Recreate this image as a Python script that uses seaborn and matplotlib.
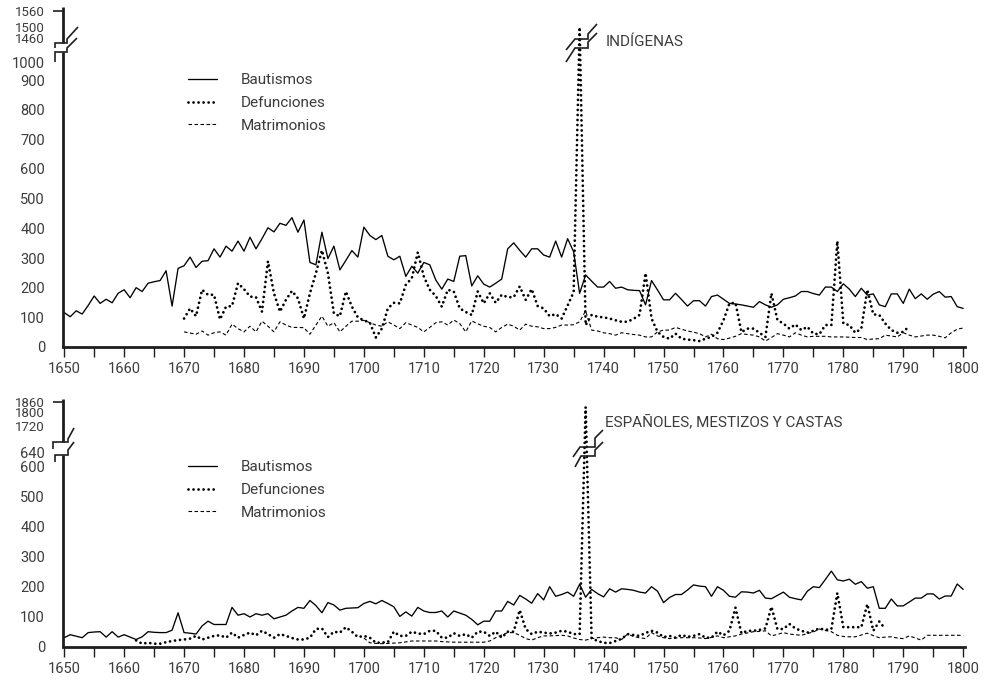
import numpy as np
import pandas as pd
import matplotlib
matplotlib.use("Agg")
import matplotlib.pyplot as plt
from matplotlib.ticker import MultipleLocator
import seaborn as sns

sns.set_theme(style="white")
plt.rcParams["font.family"] = ["Roboto", "DejaVu Sans"]

# ---------------- data ----------------
# INDÍGENAS
ind_baut_start = 1650
ind_baut = [116, 102, 122, 111, 140, 172, 147, 161, 149, 181,
            193, 166, 200, 187, 215, 220, 224, 257, 138, 265,
            274, 303, 268, 289, 291, 331, 303, 340, 323, 357,
            323, 370, 331, 365, 402, 388, 417, 410, 436, 387,
            428, 285, 277, 387, 298, 340, 260, 292, 325, 303,
            404, 376, 362, 376, 306, 294, 306, 238, 272, 249,
            285, 277, 226, 195, 229, 221, 306, 308, 206, 240,
            212, 202, 215, 229, 331, 351, 326, 303, 331, 331,
            310, 303, 357, 303, 365, 321, 181, 243, 222, 202,
            202, 221, 198, 202, 193, 191, 190, 142, 224, 192,
            159, 159, 181, 160, 138, 156, 156, 138, 170, 175,
            161, 147, 145, 142, 138, 134, 153, 142, 134, 142,
            161, 166, 172, 187, 187, 180, 175, 202, 202, 187,
            213, 195, 170, 198, 175, 179, 142, 136, 179, 179,
            147, 195, 163, 179, 161, 178, 187, 168, 170, 136,
            130]
ind_def_start = 1670
ind_def = [96, 130, 104, 193, 176, 176, 93, 136, 138, 215,
           195, 170, 168, 119, 289, 181, 119, 159, 189, 164,
           96, 181, 249, 326, 249, 113, 104, 187, 136, 100,
           90, 82, 32, 62, 130, 149, 147, 210, 232, 319,
           238, 193, 172, 136, 193, 187, 130, 118, 108, 187,
           147, 181, 149, 176, 168, 168, 204, 159, 195, 138,
           130, 104, 111, 96, 140, 185, 1500, 74, 108, 102,
           100, 96, 90, 85, 85, 95, 108, 249, 96, 51,
           34, 28, 45, 28, 25, 23, 20, 28, 34, 48,
           90, 147, 149, 50, 62, 62, 48, 34, 181, 91,
           79, 62, 76, 57, 68, 45, 43, 74, 74, 357,
           79, 74, 48, 62, 193, 110, 108, 79, 57, 48,
           51, 70]
ind_mat_start = 1670
ind_mat = [51, 47, 43, 54, 40, 48, 51, 40, 77, 62,
           51, 70, 51, 87, 70, 51, 85, 74, 66, 66,
           65, 43, 74, 104, 70, 82, 51, 70, 87, 87,
           90, 82, 74, 70, 85, 74, 62, 82, 74, 66,
           51, 66, 82, 85, 74, 91, 79, 51, 88, 78,
           70, 66, 51, 66, 77, 70, 57, 77, 70, 68,
           62, 62, 66, 74, 74, 75, 85, 122, 57, 54,
           48, 45, 40, 48, 45, 42, 40, 34, 34, 51,
           57, 57, 66, 60, 54, 50, 45, 34, 43, 28,
           25, 30, 36, 45, 42, 40, 34, 20, 32, 45,
           40, 34, 48, 40, 34, 36, 36, 36, 34, 34,
           34, 33, 32, 32, 25, 27, 28, 40, 37, 34,
           48, 40, 34, 37, 40, 40, 36, 31, 48, 60,
           64]

# ESPAÑOLES, MESTIZOS Y CASTAS
esp_baut_start = 1650
esp_baut = [31, 41, 36, 31, 48, 50, 51, 33, 51, 33,
            41, 33, 25, 34, 51, 49, 48, 48, 56, 114,
            48, 46, 43, 70, 86, 75, 75, 75, 132, 106,
            111, 100, 111, 106, 111, 94, 100, 106, 120, 132,
            129, 155, 138, 114, 148, 140, 123, 129, 130, 131,
            145, 152, 144, 155, 145, 134, 102, 117, 103, 132,
            120, 115, 115, 120, 100, 120, 113, 106, 92, 74,
            86, 86, 120, 120, 152, 140, 172, 160, 146, 178,
            157, 201, 169, 175, 183, 169, 209, 166, 192, 178,
            167, 194, 183, 194, 192, 189, 183, 180, 201, 186,
            148, 165, 175, 175, 190, 207, 203, 201, 169, 201,
            189, 169, 166, 184, 183, 180, 189, 163, 161, 172,
            183, 166, 161, 157, 186, 201, 198, 225, 253, 224,
            220, 226, 209, 218, 196, 201, 129, 129, 160, 137,
            137, 150, 163, 163, 177, 177, 160, 170, 170, 210,
            192]
esp_def_start = 1662
esp_def = [22, 11, 14, 11, 11, 16, 20, 23,
           25, 28, 37, 25, 31, 37, 39, 31, 48, 31,
           40, 48, 39, 54, 43, 31, 43, 37, 30, 25,
           25, 31, 60, 62, 33, 51, 48, 66, 51, 33,
           37, 31, 14, 15, 16, 51, 37, 37, 51, 45,
           43, 54, 54, 31, 31, 46, 37, 43, 31, 51,
           51, 37, 51, 31, 51, 51, 123, 60, 43, 51,
           48, 45, 48, 54, 51, 43, 43, 1830, 29, 20,
           14, 13, 20, 27, 43, 40, 37, 47, 54, 48,
           33, 37, 31, 40, 34, 37, 43, 31, 31, 51,
           39, 54, 131, 46, 54, 54, 57, 62, 134, 60,
           60, 77, 62, 54, 48, 54, 62, 57, 60, 180,
           66, 66, 66, 66, 143, 54, 85, 60]
esp_mat_start = 1700
esp_mat = [30, 14, 12, 11, 12, 13, 14, 17, 20, 20,
           20, 20, 20, 18, 17, 16, 16, 16, 16, 16,
           16, 20, 31, 40, 48, 48, 39, 28, 23, 31,
           37, 37, 38, 39, 37, 30, 25, 23, 28, 31,
           33, 31, 31, 25, 43, 35, 31, 28, 48, 37,
           31, 28, 30, 31, 31, 31, 30, 28, 32, 37,
           31, 34, 37, 43, 47, 51, 52, 54, 37, 42,
           48, 43, 41, 39, 45, 50, 60, 55, 51, 39,
           35, 34, 34, 40, 46, 38, 31, 33, 34, 30,
           28, 37, 30, 23, 39, 39, 39, 39, 39, 39,
           39]

labels = ["Bautismos", "Defunciones", "Matrimonios"]
top_yticks = [0, 100, 200, 300, 400, 500, 600, 700, 800, 900, 1000, 1460, 1500, 1560]
bot_yticks = [0, 100, 200, 300, 400, 500, 600, 640, 1720, 1800, 1860]
top_break_ticks = [1460, 1500, 1560]
bot_break_ticks = [1720, 1800, 1860]
title_top = "INDÍGENAS"
title_bot = "ESPAÑOLES, MESTIZOS Y CASTAS"

# ---------------- figure ----------------
W, H = 986, 684
fig = plt.figure(figsize=(W / 100, H / 100), dpi=100)
INK = "#1e1e1e"
TXT = "#3c3c3c"


def px_axes(left, top, right, bottom):
    return fig.add_axes([left / W, 1 - bottom / H, (right - left) / W, (bottom - top) / H])


def broken_scale(vals, pix):
    vals = np.asarray(vals, float)
    pix = np.asarray(pix, float)
    return (lambda v: np.interp(v, vals, pix), lambda p: np.interp(p, pix, vals))


ax1 = px_axes(63, 7, 965, 347)
ax2 = px_axes(63, 399, 965, 647)

ax1.set_yscale("function", functions=broken_scale(
    [-1000, 0, 900, 1000, 1460, 1560, 1575, 5000],
    [-296.7, 0, 267, 285, 309, 336, 340, 1265]))
ax2.set_yscale("function", functions=broken_scale(
    [-1000, 0, 600, 640, 1720, 1860, 1875, 5000],
    [-300, 0, 180, 194, 221, 245, 248, 785]))

styles = [
    dict(color="black", linewidth=0.95, linestyle="-"),
    dict(color="black", linewidth=2.0, linestyle=(0, (0.01, 1.8)), dash_capstyle="round"),
    dict(color="black", linewidth=0.8, linestyle=(0, (3.2, 2.2))),
]


def draw(ax, start, vals, label, st):
    df = pd.DataFrame({"Año": list(range(start, start + len(vals))), "Valor": vals})
    sns.lineplot(data=df, x="Año", y="Valor", ax=ax, estimator=None, sort=False,
                 errorbar=None, label=label, **st)


for ax, series, yt, small, ylim, legtop in [
    (ax1, [(ind_baut_start, ind_baut), (ind_def_start, ind_def), (ind_mat_start, ind_mat)],
     top_yticks, top_break_ticks, 1575, 73),
    (ax2, [(esp_baut_start, esp_baut), (esp_def_start, esp_def), (esp_mat_start, esp_mat)],
     bot_yticks, bot_break_ticks, 1875, 460),
]:
    for (st0, vals), lab, st in zip(series, labels, styles):
        draw(ax, st0, vals, lab, st)
    ax.set_ylim(0, ylim)
    ax.set_xlim(1649.8, 1800.3)
    ax.set_yticks(yt)
    ax.set_yticklabels([str(v) for v in yt])
    ax.xaxis.set_major_locator(MultipleLocator(10))
    ax.xaxis.set_minor_locator(MultipleLocator(5))
    ax.tick_params(axis="x", which="both", direction="out", length=7.5, width=1.0,
                   color=INK, bottom=True, labelsize=10.5, labelcolor=TXT, pad=3)
    ax.tick_params(axis="y", length=0, pad=13, labelsize=10.5, labelcolor=TXT)
    for t, v in zip(ax.get_yticklabels(), yt):
        if v in small:
            t.set_fontsize(9.5)
    ax.set_xlabel("")
    ax.set_ylabel("")
    ax.grid(False)
    for s in ["top", "right", "left"]:
        ax.spines[s].set_visible(False)
    ax.spines["bottom"].set_linewidth(2.0)
    ax.spines["bottom"].set_color(INK)
    ax.patch.set_alpha(0)
    ax.legend(loc="upper left", bbox_to_anchor=(188 / W, 1 - legtop / H),
              bbox_transform=fig.transFigure, frameon=False, fontsize=11,
              handlelength=1.9, handletextpad=1.55, labelspacing=0.58,
              borderaxespad=0, borderpad=0, labelcolor=TXT)

# overlay in pixel coordinates for broken-axis decorations and titles
ov = fig.add_axes([0, 0, 1, 1], zorder=5)
ov.set_xlim(0, W)
ov.set_ylim(H, 0)
ov.axis("off")
ov.patch.set_alpha(0)


def seg(pts, lw=1.2):
    ov.plot([p[0] for p in pts], [p[1] for p in pts], color=INK, lw=lw,
            solid_capstyle="butt", solid_joinstyle="miter")


# top panel left axis (broken)
seg([(63, 7), (63, 43)], 2.0)
seg([(63, 52), (63, 347)], 2.0)
seg([(53, 11), (63, 11)], 1.2)
seg([(55, 48), (55, 43), (67, 43), (67, 39), (78, 27)])
seg([(55, 62), (55, 52), (67, 52), (67, 48), (77, 38)])
# bottom panel left axis (broken)
seg([(63, 399), (63, 442)], 2.0)
seg([(63, 455), (63, 647)], 2.0)
seg([(53, 402), (63, 402)], 1.2)
seg([(53, 449), (53, 442), (68, 442), (68, 439), (74, 428)])
seg([(55, 462), (55, 455), (68, 455), (68, 450), (74, 442)])
# break marks on the peaks
seg([(566, 50), (575, 39), (588, 39), (588, 34), (597, 24)])
seg([(566, 62), (575, 48), (588, 48), (588, 42), (597, 33)])
seg([(573, 457), (580, 447), (595, 447), (595, 438), (603, 430)])
seg([(575, 467), (581, 456), (595, 456), (595, 450), (603, 442)])

ov.text(606, 42, title_top, fontsize=11, va="center", ha="left", color=TXT)
ov.text(605, 422, title_bot, fontsize=11, va="center", ha="left", color=TXT)

fig.savefig("out.png", dpi=100)
